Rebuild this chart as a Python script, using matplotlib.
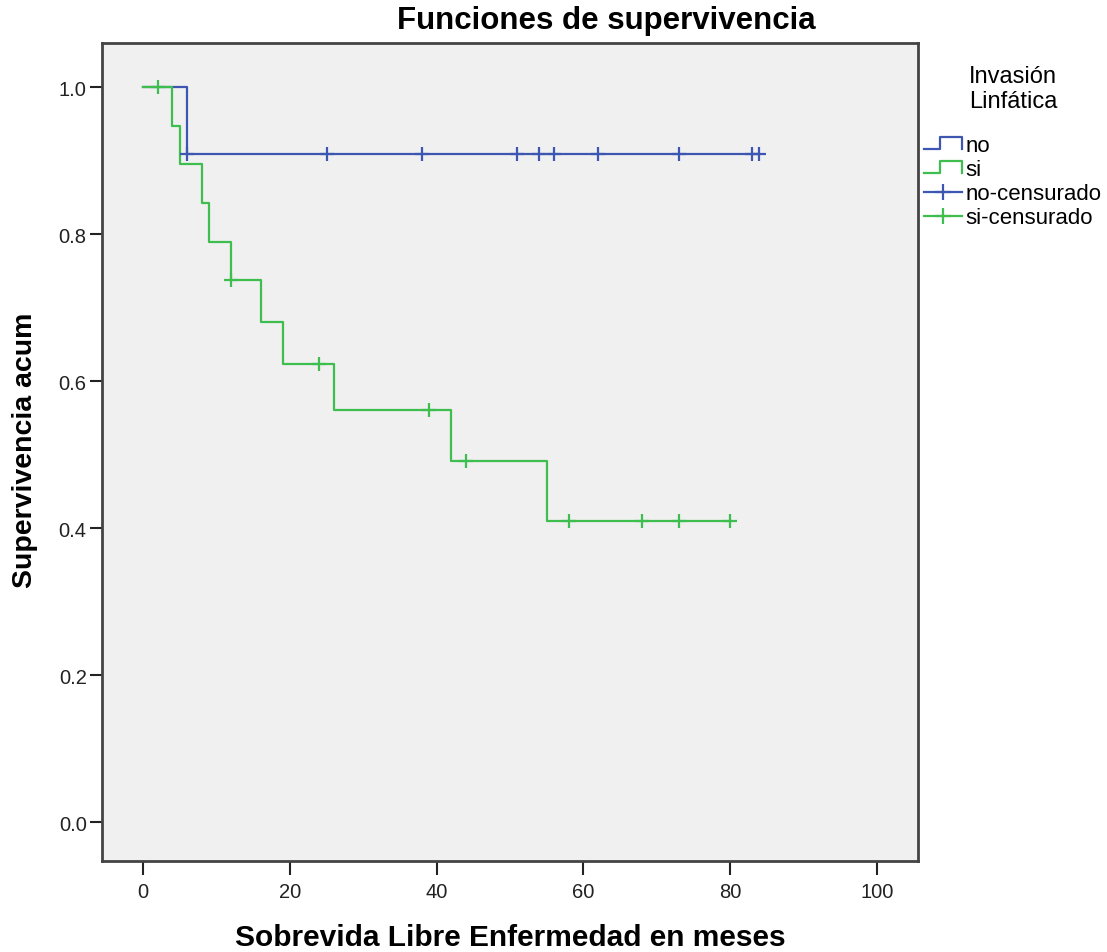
"""
Kaplan-Meier style survival chart (SPSS look)
"""
import numpy as np
import matplotlib
matplotlib.use("Agg")
import matplotlib.pyplot as plt
from matplotlib.lines import Line2D
from matplotlib.legend_handler import HandlerBase

# ---- data ----
no_times = [0, 6, 84]
no_surv = [1.0, 0.909, 0.909]
no_cens = [6, 25, 38, 51, 54, 56, 62, 73, 83, 84]

si_times = [0, 4, 5, 8, 9, 12, 16, 19, 26, 42, 55, 80]
si_surv = [1.0, 0.947, 0.895, 0.842, 0.789, 0.737, 0.680, 0.623, 0.561, 0.491, 0.409, 0.409]
si_cens = [2, 12, 24, 39, 44, 58, 68, 73, 80]

x_ticks = [0, 20, 40, 60, 80, 100]
y_ticks = [0.0, 0.2, 0.4, 0.6, 0.8, 1.0]

BLUE = "#3D56B2"
GREEN = "#3FBE50"
FONT = ["Liberation Sans", "DejaVu Sans"]

plt.rcParams["font.family"] = FONT


def surv_at(times, surv, t):
    idx = np.searchsorted(times, t, side="right") - 1
    return np.asarray(surv)[idx]


class StepHandler(HandlerBase):
    # legend handle drawn as a little step, like SPSS does
    def create_artists(self, legend, orig_handle, xdescent, ydescent,
                       width, height, fontsize, trans):
        x0 = -xdescent
        y0 = -ydescent
        lo = y0 + height * 0.05
        hi = y0 + height * 0.95
        xs = [x0, x0 + width * 0.42, x0 + width * 0.42, x0 + width, x0 + width]
        ys = [lo, lo, hi, hi, lo]
        ln = Line2D(xs, ys, color=orig_handle.get_color(),
                    lw=orig_handle.get_linewidth(), transform=trans)
        return [ln]


fig = plt.figure(figsize=(11.07, 9.53), dpi=100)
ax = fig.add_axes([102 / 1107, 91 / 953, 816 / 1107, 818 / 953])
ax.set_facecolor("#F0F0F0")

l_no, = ax.step(no_times, no_surv, where="post", color=BLUE, lw=1.6)
l_si, = ax.step(si_times, si_surv, where="post", color=GREEN, lw=1.6)
ax.plot(no_cens, surv_at(no_times, no_surv, no_cens), ls="none",
        marker="+", ms=10, mew=1.6, color=BLUE)
ax.plot(si_cens, surv_at(si_times, si_surv, si_cens), ls="none",
        marker="+", ms=10, mew=1.6, color=GREEN)

ax.set_xlim(-5.6, 105.6)
ax.set_ylim(-0.053, 1.06)
ax.set_xticks(x_ticks)
ax.set_yticks(y_ticks)
ax.set_yticklabels([f"{v:.1f}" for v in y_ticks])
ax.tick_params(axis="x", length=10, width=1.5, pad=5, labelsize=14.5,
               colors="#222222", direction="out")
ax.tick_params(axis="y", length=9, width=1.5, pad=2, labelsize=14.5,
               colors="#222222", direction="out")
for s in ax.spines.values():
    s.set_color("#444444")
    s.set_linewidth(2)

fig.text(606 / 1107, 1 - 29 / 953, "Funciones de supervivencia", ha="center",
         va="baseline", fontsize=22.5, fontweight="bold")
fig.text(510 / 1107, 1 - 946 / 953, "Sobrevida Libre Enfermedad en meses",
         ha="center", va="baseline", fontsize=21.5, fontweight="bold")
fig.text(25 / 1107, 1 - 450 / 953, "Supervivencia acum", rotation=90,
         ha="center", va="center", fontsize=20.5, fontweight="bold")

# legend proxies: censored entries show the line with a cross on it
h_cno = Line2D([], [], color=BLUE, lw=1.6, marker="+", ms=12, mew=1.6)
h_csi = Line2D([], [], color=GREEN, lw=1.6, marker="+", ms=12, mew=1.6)

leg = fig.legend([l_no, l_si, h_cno, h_csi],
                 ["no", "si", "no-censurado", "si-censurado"],
                 title="Invasión\nLinfática",
                 handler_map={l_no: StepHandler(), l_si: StepHandler()},
                 loc="upper left", bbox_to_anchor=(924 / 1107, 1 - 66 / 953),
                 frameon=False, fontsize=16, title_fontsize=17,
                 handlelength=1.7, handleheight=0.55, handletextpad=0.18,
                 labelspacing=0.14, borderaxespad=0, borderpad=0,
                 numpoints=1)
leg.get_title().set_multialignment("center")
leg._legend_box.sep = 16

fig.savefig("out.png", dpi=100)
